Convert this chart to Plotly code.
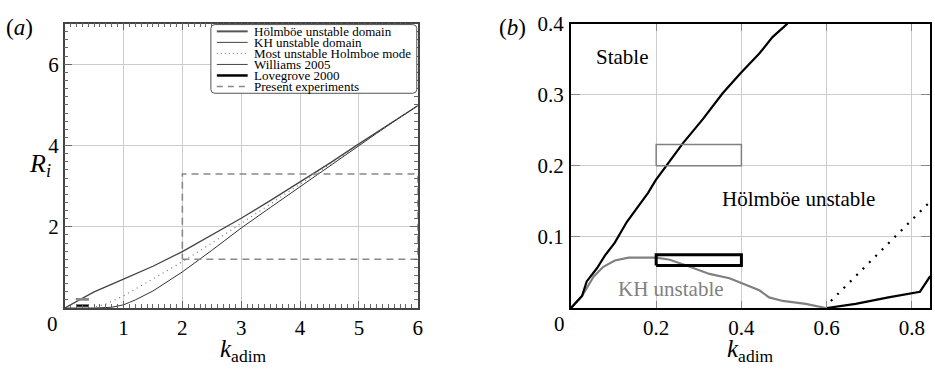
import plotly.graph_objects as go

W, H = 935, 370
FONT = "'Liberation Serif', 'Times New Roman', Times, 'DejaVu Serif', serif"

# ---------------- Panel (a) data ----------------
ka_holm = [0, 0.1, 0.5, 1.0, 1.5, 2.0, 2.5, 3.0, 3.5, 4.0, 4.5, 5.0, 5.5, 6.0]
ri_holm = [0, 0.08, 0.40, 0.71, 1.03, 1.39, 1.79, 2.21, 2.65, 3.10, 3.56, 4.04, 4.52, 4.98]
ka_kh = [0, 0.5, 0.8, 1.0, 1.1, 1.2, 1.5, 2.0, 2.5, 3.0, 3.5, 4.0, 4.5, 5.0, 5.5, 6.0]
ri_kh = [0, 0.0, 0.02, 0.08, 0.14, 0.20, 0.42, 0.89, 1.42, 1.97, 2.48, 2.99, 3.48, 4.00, 4.50, 4.98]
ka_most = [0.45, 0.7, 1.0, 1.5, 2.0, 2.5, 3.0, 3.5, 4.0, 4.5, 5.0, 5.5, 6.0]
ri_most = [0, 0.10, 0.30, 0.72, 1.14, 1.60, 2.08, 2.56, 3.04, 3.52, 4.02, 4.50, 4.98]

williams_k = [0.2, 0.4]
williams_ri = [0.2, 0.23]
lovegrove_k = [0.2, 0.4]
lovegrove_ri = [0.06, 0.075]
present_k = [2.0, 6.0]
present_ri = [1.2, 3.3]

xa_ticks = [1, 2, 3, 4, 5, 6]
ya_ticks = [2, 4, 6]

legend_labels = ["Hölmböe unstable domain", "KH unstable domain", "Most unstable Holmboe mode",
                 "Williams 2005", "Lovegrove 2000", "Present experiments"]

# ---------------- Panel (b) data ----------------
kb_stab = [0, 0.026, 0.037, 0.061, 0.080, 0.103, 0.131, 0.158, 0.181, 0.199, 0.232, 0.263,
           0.310, 0.356, 0.399, 0.442, 0.473, 0.508]
rib_stab = [0, 0.017, 0.0375, 0.056, 0.074, 0.092, 0.121, 0.144, 0.162, 0.180, 0.207, 0.232,
            0.266, 0.302, 0.331, 0.358, 0.381, 0.400]
kb_kh = [0, 0.026, 0.053, 0.076, 0.103, 0.135, 0.200, 0.232, 0.279, 0.325, 0.372, 0.411,
         0.442, 0.465, 0.497, 0.551, 0.598]
rib_kh = [0, 0.017, 0.044, 0.058, 0.067, 0.071, 0.071, 0.068, 0.058, 0.048, 0.042, 0.033,
          0.025, 0.015, 0.010, 0.006, 0.0]
kb_right = [0.600, 0.668, 0.745, 0.819, 0.843]
rib_right = [0.0, 0.006, 0.015, 0.023, 0.045]
kb_most = [0.61, 0.84]
rib_most = [0.010, 0.148]

xb_ticks = [0.2, 0.4, 0.6, 0.8]
xb_labels = ["0.2", "0.4", "0.6", "0.8"]
yb_ticks = [0.1, 0.2, 0.3, 0.4]
yb_labels = ["0.1", "0.2", "0.3", "0.4"]


def rect(k, r):
    return [k[0], k[1], k[1], k[0], k[0]], [r[0], r[0], r[1], r[1], r[0]]


def px(x):
    return x / W


def py(y):
    return 1 - y / H


fig = go.Figure()

# panel a traces
fig.add_trace(go.Scatter(x=ka_holm, y=ri_holm, mode="lines", line=dict(color="#444", width=1.3),
                         xaxis="x", yaxis="y", showlegend=False))
fig.add_trace(go.Scatter(x=ka_kh, y=ri_kh, mode="lines", line=dict(color="#333", width=1.0),
                         xaxis="x", yaxis="y", showlegend=False))
fig.add_trace(go.Scatter(x=ka_most, y=ri_most, mode="lines",
                         line=dict(color="#777", width=1.2, dash="1px,4px"),
                         xaxis="x", yaxis="y", showlegend=False))
xr, yr = rect(present_k, present_ri)
fig.add_trace(go.Scatter(x=xr, y=yr, mode="lines", line=dict(color="#888", width=1.6, dash="7px,5px"),
                         xaxis="x", yaxis="y", showlegend=False))
xr, yr = rect(williams_k, williams_ri)
fig.add_trace(go.Scatter(x=xr, y=yr, mode="lines", line=dict(color="#888", width=1.5),
                         xaxis="x", yaxis="y", showlegend=False))
xr, yr = rect(lovegrove_k, lovegrove_ri)
fig.add_trace(go.Scatter(x=xr, y=yr, mode="lines", line=dict(color="black", width=2.2),
                         xaxis="x", yaxis="y", showlegend=False))

# panel b traces
fig.add_trace(go.Scatter(x=kb_kh, y=rib_kh, mode="lines", line=dict(color="#808080", width=2.2),
                         xaxis="x2", yaxis="y2", showlegend=False))
fig.add_trace(go.Scatter(x=kb_stab, y=rib_stab, mode="lines", line=dict(color="black", width=2.2),
                         xaxis="x2", yaxis="y2", showlegend=False))
fig.add_trace(go.Scatter(x=kb_right, y=rib_right, mode="lines", line=dict(color="black", width=2.2),
                         xaxis="x2", yaxis="y2", showlegend=False))
fig.add_trace(go.Scatter(x=kb_most, y=rib_most, mode="lines",
                         line=dict(color="black", width=2.2, dash="2px,7px"),
                         xaxis="x2", yaxis="y2", showlegend=False))
xr, yr = rect(williams_k, williams_ri)
fig.add_trace(go.Scatter(x=xr, y=yr, mode="lines", line=dict(color="#808080", width=1.5),
                         xaxis="x2", yaxis="y2", showlegend=False))
xr, yr = rect(lovegrove_k, lovegrove_ri)
fig.add_trace(go.Scatter(x=xr, y=yr, mode="lines", line=dict(color="black", width=3),
                         xaxis="x2", yaxis="y2", showlegend=False))

ydom = [py(306), py(12)]
tickfont = dict(family=FONT, size=21, color="black")

fig.update_layout(
    width=W, height=H, margin=dict(l=0, r=0, t=0, b=0),
    paper_bgcolor="white", plot_bgcolor="white",
    font=dict(family=FONT, color="black"),
    xaxis=dict(domain=[px(65), px(420)], range=[0, 6], tickvals=xa_ticks, ticks="inside", ticklen=7,
               tickcolor="#666", showgrid=True, gridcolor="#cccccc", gridwidth=1, zeroline=False,
               showline=True, linecolor="#444", linewidth=1.5, mirror="allticks",
               minor=dict(dtick=0.1, ticks="inside", ticklen=4, tickcolor="#666", showgrid=False),
               tickfont=tickfont, ticklabelstandoff=0),
    yaxis=dict(domain=ydom, range=[0, 7], tickvals=ya_ticks, ticks="inside", ticklen=8,
               tickcolor="#666", showgrid=True, gridcolor="#cccccc", gridwidth=1, zeroline=False,
               showline=True, linecolor="#444", linewidth=1.5, mirror="allticks",
               minor=dict(dtick=0.2, ticks="inside", ticklen=4, tickcolor="#666", showgrid=False),
               tickfont=tickfont, ticklabelstandoff=0),
    xaxis2=dict(domain=[px(574), 1.0], range=[0, 0.8425], tickvals=xb_ticks, ticktext=xb_labels,
                ticks="inside", ticklen=7, tickcolor="#888", showgrid=True, gridcolor="#cccccc",
                gridwidth=1, zeroline=False, showline=True, linecolor="black", linewidth=2,
                mirror="allticks", tickfont=tickfont, ticklabelstandoff=0, anchor="y2"),
    yaxis2=dict(domain=ydom, range=[0, 0.4], tickvals=yb_ticks, ticktext=yb_labels,
                ticks="inside", ticklen=9, tickcolor="#888", showgrid=True, gridcolor="#cccccc",
                gridwidth=1, zeroline=False, showline=True, linecolor="black", linewidth=2,
                mirror="allticks", tickfont=tickfont, ticklabelstandoff=1, anchor="x2"),
)

# ---------------- manual legend (panel a) ----------------
bx0, bx1, by0, by1, rad = 212, 419, 13, 84, 4
path = (f"M {px(bx0+rad)},{py(by0)} L {px(bx1-rad)},{py(by0)} "
        f"Q {px(bx1)},{py(by0)} {px(bx1)},{py(by0+rad)} L {px(bx1)},{py(by1-rad)} "
        f"Q {px(bx1)},{py(by1)} {px(bx1-rad)},{py(by1)} L {px(bx0+rad)},{py(by1)} "
        f"Q {px(bx0)},{py(by1)} {px(bx0)},{py(by1-rad)} L {px(bx0)},{py(by0+rad)} "
        f"Q {px(bx0)},{py(by0)} {px(bx0+rad)},{py(by0)} Z")
shapes = [dict(type="path", xref="paper", yref="paper", path=path,
               line=dict(color="#555", width=1), fillcolor="white", layer="above")]
leg_styles = [dict(color="#555", width=2), dict(color="#444", width=1),
              dict(color="#888", width=1.2, dash="1px,3px"), dict(color="#444", width=1),
              dict(color="black", width=2.5), dict(color="#888", width=1.6, dash="6px,5px")]
annotations = []
for i, (lab, st) in enumerate(zip(legend_labels, leg_styles)):
    yy = 20 + i * 11.4
    shapes.append(dict(type="line", xref="paper", yref="paper", x0=px(218), x1=px(249),
                       y0=py(yy), y1=py(yy), line=st, layer="above"))
    annotations.append(dict(xref="paper", yref="paper", x=px(253), y=py(yy + 0.5), text=lab,
                            showarrow=False, xanchor="left", yanchor="middle",
                            font=dict(family=FONT, size=13, color="black")))


def ann(x, y, text, size, color="black", xanchor="center"):
    annotations.append(dict(xref="paper", yref="paper", x=px(x), y=py(y), text=text,
                            showarrow=False, xanchor=xanchor, yanchor="middle",
                            font=dict(family=FONT, size=size, color=color)))


ann(20, 16, "(<i>a</i>)", 23)
ann(515, 16, "(<i>b</i>)", 23)
ann(53, 322, "0", 21)
ann(563, 322, "0", 21)
ann(40, 158, "<i>R<sub>i</sub></i>", 26)
ann(244, 350, "<i>k</i><sub>adim</sub>", 25)
ann(754, 350, "<i>k</i><sub>adim</sub>", 25)
ann(626, 47, "Stable", 21)
ann(803, 193, "Hölmböe unstable", 21)
ann(675, 286, "KH unstable", 21, color="#808080")

fig.update_layout(shapes=shapes, annotations=annotations)
fig.write_html("out.html")
